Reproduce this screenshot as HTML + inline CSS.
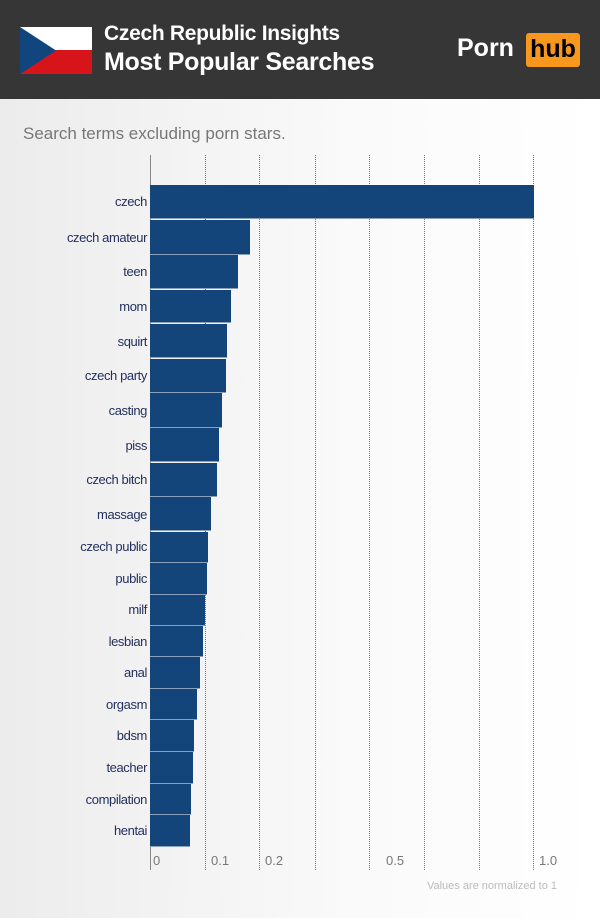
<!DOCTYPE html>
<html><head><meta charset="utf-8"><style>
body{margin:0;width:600px;height:918px;overflow:hidden;font-family:"Liberation Sans",sans-serif;background:linear-gradient(90deg,#ececec,#fafafa 60%,#fff);position:relative}
.hdr{position:absolute;left:0;top:0;width:600px;height:99px;background:#363636}
.t1{position:absolute;left:104px;top:22px;color:#fff;font-weight:bold;font-size:21px;letter-spacing:-0.3px}
.t2{position:absolute;left:104px;top:48px;color:#fff;font-weight:bold;font-size:25px;letter-spacing:-0.3px}
.sub{position:absolute;left:23px;top:124px;color:#777;font-size:17px}
.bar{position:absolute;z-index:2;left:150px;background:#13457b;border-bottom:1px solid #8aa0bd}
.lab{position:absolute;right:453px;font-size:13px;color:#23305e;white-space:nowrap;letter-spacing:-0.4px}
.g{position:absolute;z-index:1;top:155px;height:715px;border-left:1px dotted #777}
.ax{position:absolute;top:853px;font-size:13px;color:#777}
</style></head><body>
<div class="hdr"></div>
<svg style="position:absolute;left:20px;top:27px" width="72" height="47"><rect width="72" height="23" fill="#fff"/><rect y="23" width="72" height="24" fill="#d7141a"/><polygon points="0,0 36,23.5 0,47" fill="#11457e"/></svg>
<div class="t1">Czech Republic Insights</div>
<div class="t2">Most Popular Searches</div>
<div style="position:absolute;left:457px;top:34px;color:#fff;font-weight:bold;font-size:25px">Porn</div>
<div style="position:absolute;left:526px;top:33px;width:54px;height:34px;background:#f7971d;border-radius:3px;color:#000;font-weight:bold;font-size:25px;text-align:center;line-height:33px">hub</div>
<div class="sub">Search terms excluding porn stars.</div>
<div class="g" style="left:150px;border-left:1px solid #888"></div>
<div class="g" style="left:205px"></div><div class="g" style="left:259px"></div><div class="g" style="left:315px"></div><div class="g" style="left:369px"></div><div class="g" style="left:424px"></div><div class="g" style="left:479px"></div><div class="g" style="left:533px"></div>
<div class="bar" style="top:185px;height:33px;width:384px"></div><div class="lab" style="top:194px">czech</div>
<div class="bar" style="top:220px;height:34px;width:100px"></div><div class="lab" style="top:230px">czech amateur</div>
<div class="bar" style="top:255px;height:33px;width:88px"></div><div class="lab" style="top:264px">teen</div>
<div class="bar" style="top:290px;height:32px;width:81px"></div><div class="lab" style="top:299px">mom</div>
<div class="bar" style="top:324px;height:33px;width:77px"></div><div class="lab" style="top:334px">squirt</div>
<div class="bar" style="top:359px;height:33px;width:76px"></div><div class="lab" style="top:368px">czech party</div>
<div class="bar" style="top:393px;height:34px;width:72px"></div><div class="lab" style="top:403px">casting</div>
<div class="bar" style="top:428px;height:33px;width:69px"></div><div class="lab" style="top:438px">piss</div>
<div class="bar" style="top:463px;height:33px;width:67px"></div><div class="lab" style="top:472px">czech bitch</div>
<div class="bar" style="top:497px;height:33px;width:61px"></div><div class="lab" style="top:507px">massage</div>
<div class="bar" style="top:532px;height:30px;width:58px"></div><div class="lab" style="top:539px">czech public</div>
<div class="bar" style="top:563px;height:31px;width:57px"></div><div class="lab" style="top:571px">public</div>
<div class="bar" style="top:595px;height:30px;width:55px"></div><div class="lab" style="top:602px">milf</div>
<div class="bar" style="top:626px;height:30px;width:53px"></div><div class="lab" style="top:634px">lesbian</div>
<div class="bar" style="top:657px;height:31px;width:50px"></div><div class="lab" style="top:665px">anal</div>
<div class="bar" style="top:689px;height:30px;width:47px"></div><div class="lab" style="top:697px">orgasm</div>
<div class="bar" style="top:720px;height:31px;width:44px"></div><div class="lab" style="top:728px">bdsm</div>
<div class="bar" style="top:752px;height:31px;width:43px"></div><div class="lab" style="top:760px">teacher</div>
<div class="bar" style="top:784px;height:30px;width:41px"></div><div class="lab" style="top:792px">compilation</div>
<div class="bar" style="top:815px;height:31px;width:40px"></div><div class="lab" style="top:823px">hentai</div>
<div class="ax" style="left:153px">0</div><div class="ax" style="left:211px">0.1</div><div class="ax" style="left:265px">0.2</div><div class="ax" style="left:386px">0.5</div><div class="ax" style="left:539px">1.0</div>
<div style="position:absolute;right:43px;top:880px;font-size:11px;color:#bbb">Values are normalized to 1</div>
</body></html>
